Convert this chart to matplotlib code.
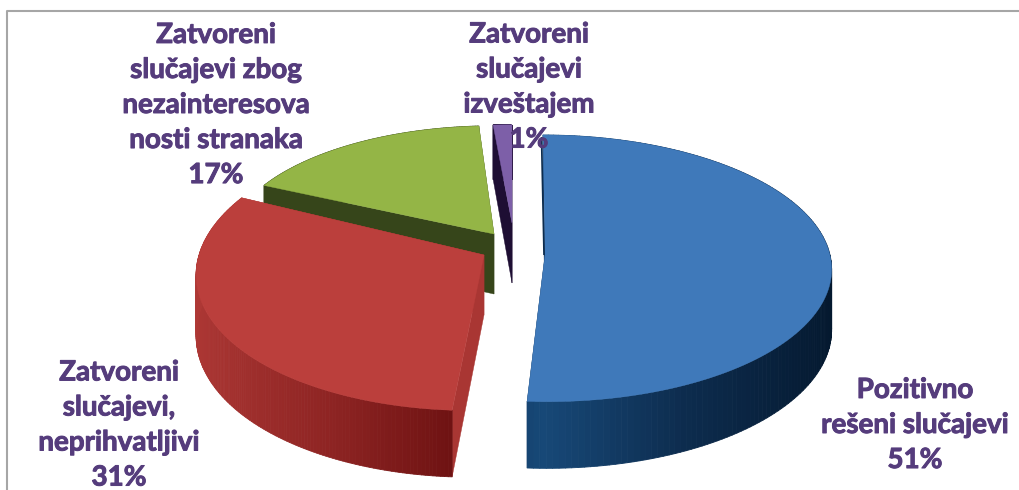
import numpy as np
import matplotlib
matplotlib.use("Agg")
import matplotlib.pyplot as plt
import matplotlib.patheffects as pe
from matplotlib.collections import PolyCollection
from matplotlib.colors import to_rgb

# ---- data ----
categories = ["Pozitivno\nrešeni slučajevi", "Zatvoreni\nslučajevi,\nneprihvatljivi",
              "Zatvoreni\nslučajevi zbog\nnezainteresova\nnosti stranaka",
              "Zatvoreni\nslučajevi\nizveštajem"]
values = [51, 31, 17, 1]

# ---- style / layout ----
top_colors = ["#3F79BA", "#BB3F3C", "#94B546", "#7D5FA8"]
wall_colors = ["#0D2C4E", "#A93633", "#36451A", "#1E0E33"]
side_stops = [[(0.0, "#04182E"), (0.55, "#0D2C4E"), (1.0, "#174877")],
              [(0.0, "#6A1010"), (0.45, "#8E2423"), (1.0, "#AE3835")],
              [(0, "#36451A"), (1, "#36451A")], [(0, "#1E0E33"), (1, "#1E0E33")]]
apex = [(545, 255), (484, 255), (494, 234), (512, 223)]
radius_x = [285, 285, 265, 330]
radius_y = [132, 140, 119, 108]
shear = [-2, 12, 0, 0]
label_xy = [(915, 425), (119, 425), (216, 105), (529, 87)]
K = 0.10
DEPTH = 60
TEXT = "#553C7C"

plt.rcParams["font.family"] = ["Lato", "DejaVu Sans"]
fig = plt.figure(figsize=(10.2, 4.9), dpi=100)
ax = fig.add_axes([0, 0, 1, 1])
ax.set_xlim(0, 1020)
ax.set_ylim(490, 0)
ax.axis("off")

fracs = np.array(values, dtype=float) / sum(values)
edges = np.concatenate([[0], np.cumsum(fracs)]) * 2 * np.pi


def project(i, th, drop=0.0):
    u, v = np.sin(th), np.cos(th)
    s = 1 / (1 + K * v)
    x = apex[i][0] + radius_x[i] * u * s + shear[i] * v
    y = apex[i][1] - radius_y[i] * v * s + drop * s
    return np.column_stack([x, y])


def lerp_stops(stops, t):
    pos = [p for p, _ in stops]
    cols = np.array([to_rgb(c) for _, c in stops])
    return [np.interp(t, pos, cols[:, k]) for k in range(3)]


def draw_slice(i, z):
    th = np.linspace(edges[i], edges[i + 1], 160)
    rim = project(i, th)
    rim_low = project(i, th, DEPTH)
    a = np.array([apex[i]], dtype=float)
    a_low = a + [0, DEPTH]
    # cut walls
    ax.fill(*np.vstack([a, rim[:1], rim_low[:1], a_low]).T, color=wall_colors[i], lw=0.3, zorder=z)
    ax.fill(*np.vstack([a, rim[-1:], rim_low[-1:], a_low]).T, color=wall_colors[i], lw=0.3, zorder=z)
    # outer wall with a gradient along the rim
    polys, cols = [], []
    for j in range(len(th) - 1):
        polys.append([rim[j], rim[j + 1], rim_low[j + 1], rim_low[j]])
        t = 1 - abs(np.sin(th[j])) if i == 0 else abs(np.sin(th[j]))
        cols.append(lerp_stops(side_stops[i], t))
    ax.add_collection(PolyCollection(polys, facecolors=cols, edgecolors=cols, linewidths=0.6, zorder=z))
    # top face
    ax.fill(*np.vstack([a, rim]).T, color=top_colors[i], lw=0.3, zorder=z + 0.5)


for z, i in enumerate([3, 2, 1, 0]):
    draw_slice(i, z + 1)

# thin dark sliver beside the back edge of the large slice
back = project(0, np.array([edges[0]]))[0]
ax.plot([apex[0][0] - 1, back[0] - 1.5], [apex[0][1], back[1] + 2], color="#0D2C4E", lw=1.2,
        zorder=10, solid_capstyle="butt")

# labels
for name, val, (x, y) in zip(categories, values, label_xy):
    t = ax.text(x, y, f"{name}\n{val}%", ha="center", va="center", ma="center", color=TEXT,
                fontsize=20, fontweight="bold", linespacing=1.43, zorder=20)
    t.set_path_effects([pe.withStroke(linewidth=0.7, foreground=TEXT)])

# frame
ax.plot([7, 7, 1020], [490, 11, 11], color="#A6A6A6", lw=1.5, zorder=0)

fig.savefig("out.png", dpi=100)
